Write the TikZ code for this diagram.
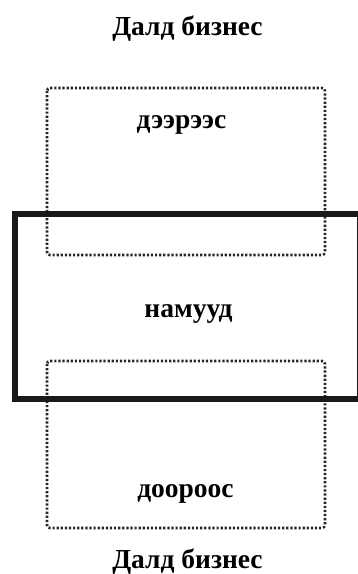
\documentclass[tikz,border=0pt]{standalone}
\usepackage{fontspec}
\setmainfont{Liberation Serif}
\tikzset{
  dotbox/.style={draw=black!85, line width=2.6pt, dash pattern=on 2.2pt off 1.9pt, rounded corners=3pt},
  mainbox/.style={draw=black!90, line width=6pt},
  title/.style={font=\bfseries\fontsize{27.5}{30}\selectfont, anchor=base, inner sep=0pt},
  lbl/.style={font=\bfseries\fontsize{27.5}{30}\selectfont, anchor=base, inner sep=0pt}
}
\begin{document}
\begin{tikzpicture}[x=1pt,y=-1pt]
\useasboundingbox (0,0) rectangle (358,574);
\clip (0,0) rectangle (358,574);
\draw[dotbox] (47,88) rectangle (325,255);
\draw[dotbox] (47,361) rectangle (325,528);
\draw[mainbox] (15,214) rectangle (360,399);
\node[title] (t1) at (187.5,35) {Далд бизнес};
\node[lbl] (up) at (181.5,128) {дээрээс};
\node[lbl] (mid) at (188.5,317) {намууд};
\node[lbl] (down) at (185.5,497) {доороос};
\node[title] (t2) at (187.5,568) {Далд бизнес};
\end{tikzpicture}
\end{document}
